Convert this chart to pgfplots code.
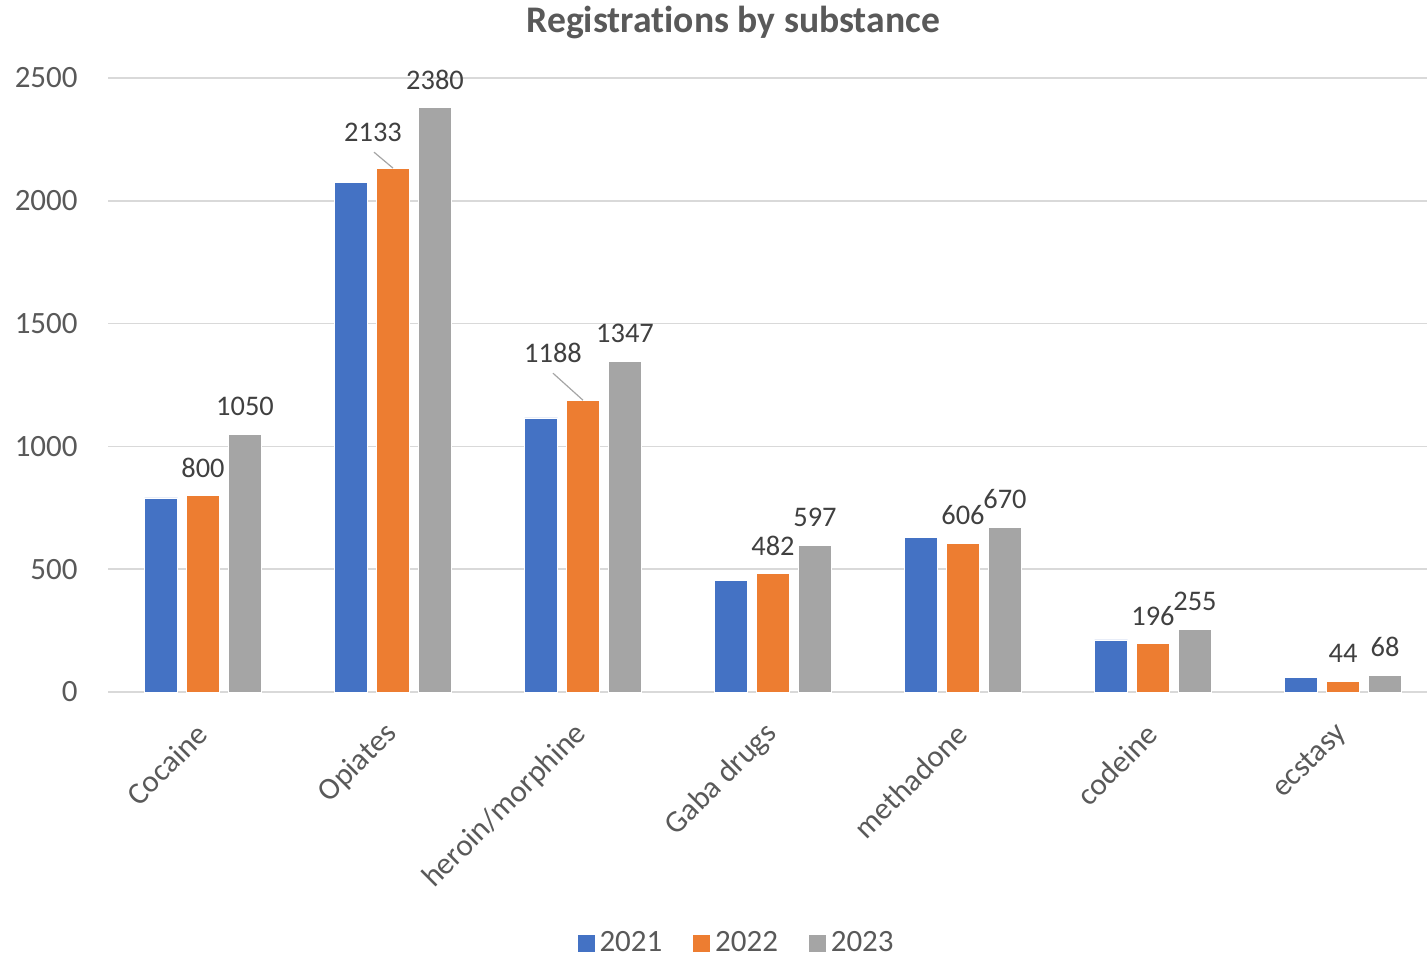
\documentclass[border=0pt]{standalone}
\usepackage{pgfplots}
\pgfplotsset{compat=1.18}
\usepackage{pgfplotstable}
\usepackage{fontspec}
\setmainfont{Carlito}[RawFeature={-liga}]
\definecolor{cblue}{HTML}{4472C4}
\definecolor{corange}{HTML}{ED7D31}
\definecolor{cgray}{HTML}{A5A5A5}
\definecolor{txt}{HTML}{595959}
\definecolor{lbl}{HTML}{404040}
\definecolor{grid}{HTML}{D9D9D9}

\pgfplotstableread{
x y
0 790
1 2073
2 1116
3 456
4 628
5 212
6 61
}\tA
\pgfplotstableread{
x y dx dy
0 800 0 0
1 2133 -10 4
2 1188 -15 9.5
3 482 0 0
4 606 0 0
5 196 0 0
6 44 0 0
}\tB
\pgfplotstableread{
x y
0 1050
1 2380
2 1347
3 597
4 670
5 255
6 68
}\tC

\begin{document}
\begin{tikzpicture}
\useasboundingbox (0,0) rectangle (713.5pt,479.5pt);
\begin{axis}[
  at={(54pt,133.5pt)}, anchor=south west,
  scale only axis,
  width=659.5pt, height=307pt,
  xmin=-0.5, xmax=6.442,
  ymin=0, ymax=2500,
  ytick={0,500,1000,1500,2000,2500},
  xtick={0,1,2,3,4,5,6},
  xticklabels={Cocaine,Opiates,heroin/morphine,Gaba drugs,methadone,codeine,ecstasy},
  axis line style={draw=none},
  major tick length=0pt,
  ymajorgrids,
  grid style={draw=grid, line width=0.75pt},
  /pgf/number format/assume math mode=true,
  /pgf/number format/1000 sep={},
  yticklabel style={font=\fontsize{15.5}{18}\selectfont, text=txt, anchor=east, inner sep=0pt, xshift=-15pt},
  xticklabel style={font=\fontsize{15.5}{18}\selectfont, text=txt, rotate=45, anchor=east, inner sep=0pt, xshift=-13.4pt, yshift=-12.9pt},
  title={Registrations by substance},
  title style={at={(0.474,1.071)}, anchor=center, font=\bfseries\fontsize{18.8}{22}\selectfont, text=txt},
  ybar, bar width=16.5pt,
  legend style={at={(0.477,-0.409)}, anchor=center, draw=none, fill=none,
    legend columns=-1, font=\fontsize{15.5}{18}\selectfont, text=txt,
    /tikz/every even column/.append style={column sep=13pt}},
  legend image code/.code={\fill[#1] (0pt,-4.5pt) rectangle (9pt,4.5pt);},
  clip=false,
]
\addplot[bar shift=-21pt, fill=cblue, draw=white, line width=0.4pt] table[x=x,y=y] {\tA};
\addlegendentry{2021}
\addplot[bar shift=0pt, fill=corange, draw=white, line width=0.4pt,
  visualization depends on={\thisrow{dx}\as\dxv},
  visualization depends on={\thisrow{dy}\as\dyv},
  nodes near coords,
  every node near coord/.append style={anchor=center, xshift=\dxv pt, yshift=14pt+\dyv pt, font=\fontsize{14.2}{17}\selectfont, text=lbl},
  ] table[x=x,y=y] {\tB};
\addlegendentry{2022}
\addplot[bar shift=21pt, fill=cgray, draw=white, line width=0.4pt,
  nodes near coords,
  every node near coord/.append style={anchor=center, yshift=14pt, font=\fontsize{14.2}{17}\selectfont, text=lbl},
  ] table[x=x,y=y] {\tC};
\addlegendentry{2023}
\draw[cgray, line width=0.6pt] (axis cs:0.9,2198) -- (axis cs:1,2133);
\draw[cgray, line width=0.6pt] (axis cs:1.842,1298) -- (axis cs:2,1188);
\end{axis}
\end{tikzpicture}
\end{document}
